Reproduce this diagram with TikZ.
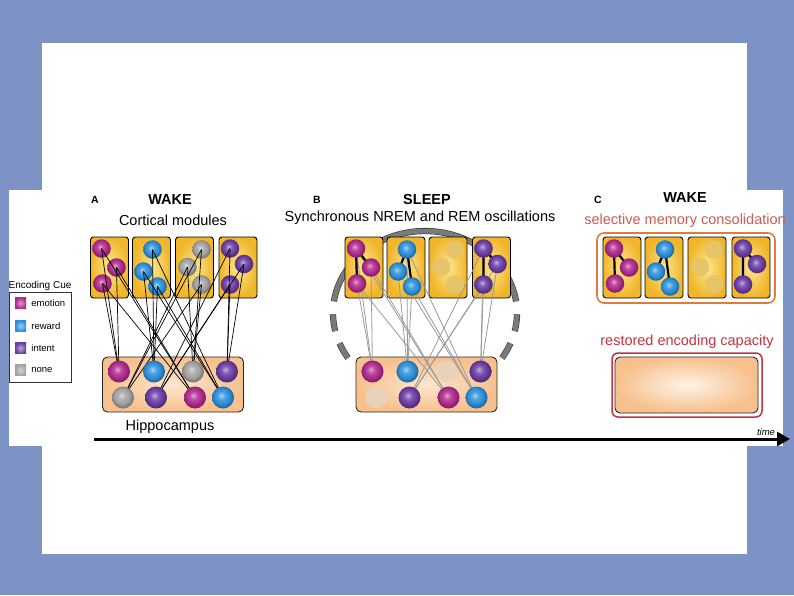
\documentclass[tikz,border=0pt]{standalone}
\usepackage{fontspec}
\setmainfont{Liberation Sans}
\usetikzlibrary{arrows.meta,positioning,calc}
\definecolor{slideBlue}{HTML}{7D93C5}
\definecolor{cortexIn}{HTML}{FDE78F}
\definecolor{cortexOut}{HTML}{F1B52A}
\definecolor{hippoIn}{HTML}{FDE6CF}
\definecolor{hippoOut}{HTML}{F7C08C}
\definecolor{emoCol}{HTML}{B02A8E}
\definecolor{rewCol}{HTML}{2D8FDB}
\definecolor{intCol}{HTML}{6A3EA4}
\definecolor{noneCol}{HTML}{A2A2A2}
\definecolor{fadeCol}{HTML}{E6C468}
\definecolor{fadeHip}{HTML}{E8D2B8}
\definecolor{consRed}{HTML}{CF5A52}
\definecolor{capRed}{HTML}{C8323F}
\definecolor{consOrange}{HTML}{E07B3C}
\definecolor{arcGray}{HTML}{7A7A7A}

% glossy cells, one shading per cue
\pgfdeclareradialshading{emoshade}{\pgfpoint{-4bp}{5bp}}{color(0bp)=(emoCol!40!white); color(9bp)=(emoCol!85!white); color(17bp)=(emoCol); color(25bp)=(emoCol!75!black); color(50bp)=(emoCol!75!black)}
\pgfdeclareradialshading{rewshade}{\pgfpoint{-4bp}{5bp}}{color(0bp)=(rewCol!40!white); color(9bp)=(rewCol!85!white); color(17bp)=(rewCol); color(25bp)=(rewCol!75!black); color(50bp)=(rewCol!75!black)}
\pgfdeclareradialshading{intshade}{\pgfpoint{-4bp}{5bp}}{color(0bp)=(intCol!40!white); color(9bp)=(intCol!85!white); color(17bp)=(intCol); color(25bp)=(intCol!75!black); color(50bp)=(intCol!75!black)}
\pgfdeclareradialshading{noneshade}{\pgfpoint{-4bp}{5bp}}{color(0bp)=(noneCol!40!white); color(9bp)=(noneCol!85!white); color(17bp)=(noneCol); color(25bp)=(noneCol!75!black); color(50bp)=(noneCol!75!black)}

\begin{document}
\begin{tikzpicture}[x=1pt, y=-1pt,
        font=\fontsize{14.5}{17}\selectfont,
        cortex/.style={
            draw=black,
            line width=0.9pt,
            rounded corners=3pt,
            minimum width=38pt,
            minimum height=61pt,
            inner sep=0pt,
            inner color=cortexIn,
            outer color=cortexOut
        },
        hippo/.style={
            draw=black!85,
            line width=0.9pt,
            rounded corners=5pt,
            minimum width=141pt,
            minimum height=55pt,
            inner sep=0pt,
            inner color=hippoIn,
            outer color=hippoOut
        },
        cell/.style={circle, inner sep=0pt, minimum size=18.5pt},
        hcell/.style={cell, minimum size=22pt},
        emocell/.style={shading=emoshade},
        rewcell/.style={shading=rewshade},
        intcell/.style={shading=intshade},
        nonecell/.style={shading=noneshade},
        fadecell/.style={fill=fadeCol},
        fadehcell/.style={fill=fadeHip},
        tag/.style={font=\fontsize{10.5}{12}\selectfont\bfseries},
        heading/.style={font=\fontsize{14.5}{17}\selectfont\bfseries},
        cue/.style={minimum size=11pt, inner sep=0pt},
        legtext/.style={font=\fontsize{9.5}{11}\selectfont, inner sep=0pt},
        wire/.style={black, line width=0.7pt},
        greywire/.style={black!40, line width=0.8pt},
        bond/.style={black, line width=2.2pt},
        swirl/.style={draw=black!80, line width=0.6pt, double=arcGray, double distance=5pt}
    ]

    \useasboundingbox (0,0) rectangle (794,595);
    \fill[slideBlue] (0,0) rectangle (794,595);
    \fill[white] (42,43) rectangle (747,554);
    \fill[white] (9,190) rectangle (783,446);

    % legend
    \node[draw=black!80, line width=0.6pt, minimum width=62pt, minimum height=90pt, inner sep=0pt] (legbox) at (40,337) {};
    \node[font=\fontsize{10}{12}\selectfont, inner sep=1pt, above=0pt of legbox] (legtitle) {Encoding Cue};
    \node[cue, inner color=emoCol!45!white, outer color=emoCol] (leg1) at (20.5,303) {};
    \node[cue, inner color=rewCol!45!white, outer color=rewCol] (leg2) at (20.5,326) {};
    \node[cue, inner color=intCol!45!white, outer color=intCol] (leg3) at (20.5,348) {};
    \node[cue, inner color=noneCol!45!white, outer color=noneCol] (leg4) at (20.5,370) {};
    \node[legtext, right=5pt of leg1] {emotion};
    \node[legtext, right=5pt of leg2] {reward};
    \node[legtext, right=5pt of leg3] {intent};
    \node[legtext, right=5pt of leg4] {none};

    % A: wake
    \node[tag] (tagA) at (95,200) {A};
    \node[heading] (wakeA) at (170,200) {WAKE};
    \node (cortA) at (173,220) {Cortical modules};

    \foreach \m/\cx in {1/109.5, 2/151.5, 3/194.5, 4/238}
        \node[cortex] (ma\m) at (\cx,267.5) {};
    \node[hippo] (hpA) at (173,384.5) {};
    \node (hipA) at (170,427) {Hippocampus};

    \foreach \m/\kind/\xa/\ya/\xb/\yb/\xc/\yc in {1/emocell/-8/-19/7/0/-7/16, 2/rewcell/1/-18/-8/4/6/19,
            3/nonecell/7/-18/-7/-0.5/7/17, 4/intcell/-8/-19/6/-3.5/-8/17} {
        \node[cell, \kind] (a\m1) at ($(ma\m)+(\xa,\ya)$) {};
        \node[cell, \kind] (a\m2) at ($(ma\m)+(\xb,\yb)$) {};
        \node[cell, \kind] (a\m3) at ($(ma\m)+(\xc,\yc)$) {};
    }
    \foreach \i/\dx/\dy in {1/-54/-13, 2/-19/-13, 3/20/-13, 4/54/-13, 5/-50/13, 6/-17/13, 7/22/13, 8/50/13}
        \coordinate (ha\i) at ($(hpA)+(\dx,\dy)$);
    \foreach \m/\p/\q in {1/1/7, 2/2/8, 3/3/5, 4/4/6}
        \foreach \k in {1,2,3} {
            \draw[wire] (a\m\k.center) -- (ha\p);
            \draw[wire] (a\m\k.center) -- (ha\q);
        }
    \foreach \i/\kind in {1/emocell, 2/rewcell, 3/nonecell, 4/intcell, 5/nonecell, 6/intcell, 7/emocell, 8/rewcell}
        \node[hcell, \kind] at (ha\i) {};

    % B: sleep
    \node[tag] (tagB) at (317,200) {B};
    \node[heading] (sleepB) at (427,200) {SLEEP};
    \node (oscB) at (420,218) {Synchronous NREM and REM oscillations};

    \draw[swirl] plot[domain=200:340, samples=40] ({425+92*cos(\x)},{313+82*sin(\x)});
    \draw[swirl, dash pattern=on 17pt off 13pt] plot[domain=200:140, samples=30] ({425+92*cos(\x)},{313+82*sin(\x)});
    \draw[swirl, dash pattern=on 17pt off 13pt] plot[domain=340:400, samples=30] ({425+92*cos(\x)},{313+82*sin(\x)});

    \foreach \m/\cx in {1/364, 2/406, 3/448, 4/491.5}
        \node[cortex] (mb\m) at (\cx,267.5) {};
    \node[hippo] (hpB) at (426.5,384.5) {};
    \foreach \i/\dx/\dy in {1/-54/-13, 2/-19/-13, 3/20/-13, 4/54/-13, 5/-50/13, 6/-17/13, 7/22/13, 8/50/13}
        \coordinate (hb\i) at ($(hpB)+(\dx,\dy)$);
    \foreach \m/\xa/\ya/\xb/\yb/\xc/\yc in {1/-8/-19/7/0/-7/16, 2/1/-18/-8/4/6/19,
            3/7/-18/-7/-0.5/7/17, 4/-8/-19/6/-3.5/-8/17} {
        \coordinate (b\m1) at ($(mb\m)+(\xa,\ya)$);
        \coordinate (b\m2) at ($(mb\m)+(\xb,\yb)$);
        \coordinate (b\m3) at ($(mb\m)+(\xc,\yc)$);
    }
    \foreach \m/\p/\q in {1/1/7, 2/2/8, 4/4/6}
        \foreach \k in {1,2,3} {
            \draw[greywire] (b\m\k) -- (hb\p);
            \draw[greywire] (b\m\k) -- (hb\q);
        }
    \foreach \m in {1,2,4}
        \draw[bond] (b\m1) -- (b\m2) (b\m1) -- (b\m3);
    \foreach \m/\kind in {1/emocell, 2/rewcell, 3/fadecell, 4/intcell}
        \foreach \k in {1,2,3}
            \node[cell, \kind] at (b\m\k) {};
    \foreach \i/\kind in {1/emocell, 2/rewcell, 3/fadehcell, 4/intcell, 5/fadehcell, 6/intcell, 7/emocell, 8/rewcell}
        \node[hcell, \kind] at (hb\i) {};

    % C: wake again
    \node[tag] (tagC) at (598,200) {C};
    \node[heading] (wakeC) at (685,198) {WAKE};
    \node[text=consRed] (consC) at (685,221) {selective memory consolidation};
    \node[draw=consOrange, line width=1.6pt, rounded corners=7pt, minimum width=178pt, minimum height=70pt] (consbox) at (686,268) {};
    \foreach \m/\cx in {1/622, 2/664, 3/707, 4/751}
        \node[cortex] (mc\m) at (\cx,267.5) {};
    \foreach \m/\xa/\ya/\xb/\yb/\xc/\yc in {1/-8/-19/7/0/-7/16, 2/1/-18/-8/4/6/19,
            3/7/-18/-7/-0.5/7/17, 4/-8/-19/6/-3.5/-8/17} {
        \coordinate (c\m1) at ($(mc\m)+(\xa,\ya)$);
        \coordinate (c\m2) at ($(mc\m)+(\xb,\yb)$);
        \coordinate (c\m3) at ($(mc\m)+(\xc,\yc)$);
    }
    \foreach \m in {1,2,4}
        \draw[bond] (c\m1) -- (c\m2) (c\m1) -- (c\m3);
    \foreach \m/\kind in {1/emocell, 2/rewcell, 3/fadecell, 4/intcell}
        \foreach \k in {1,2,3}
            \node[cell, \kind] at (c\m\k) {};

    \node[text=capRed] (capC) at (687,342) {restored encoding capacity};
    \node[draw=capRed, line width=1.5pt, rounded corners=6pt, minimum width=150pt, minimum height=64pt] (capbox) at (687,385) {};
    \node[hippo, minimum width=143pt, minimum height=56pt, inner color=hippoIn!50!white] (hpC) at (686.5,385) {};

    % time axis
    \coordinate (t0) at (94,439);
    \coordinate (t1) at (790,439);
    \draw[line width=3pt, -{Triangle[length=13pt, width=14pt]}] (t0) -- (t1);
    \node[font=\fontsize{9.5}{11}\selectfont\itshape, inner sep=0pt] (timeLbl) at (766,432) {time};

\end{tikzpicture}
\end{document}
